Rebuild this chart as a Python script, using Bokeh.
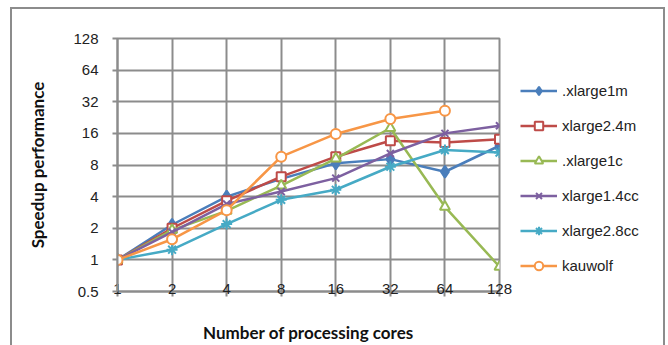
from bokeh.plotting import figure
from bokeh.layouts import row
from bokeh.models import (FixedTicker, BasicTickFormatter, Legend, LegendItem,
                          Range1d, InlineStyleSheet)
from bokeh.embed import file_html
from bokeh.resources import INLINE

cores = [1, 2, 4, 8, 16, 32, 64, 128]
y_ticks = [0.5, 1, 2, 4, 8, 16, 32, 64, 128]
nan = float("nan")

xlarge1m = [1, 2.16, 4.0, 5.9, 8.3, 9.1, 6.9, 12.2]
xlarge24m = [1, 2.0, 3.65, 6.2, 9.6, 13.6, 13.1, 14.1]
xlarge1c = [1, 1.92, 2.93, 5.1, 9.2, 18.0, 3.2, 0.86]
xlarge14cc = [1, 1.84, 3.4, 4.47, 6.0, 10.3, 16.0, 18.9]
xlarge28cc = [1, 1.25, 2.19, 3.73, 4.65, 7.7, 11.1, 10.5]
kauwolf = [1, 1.57, 2.97, 9.6, 15.8, 21.9, 26.3, nan]

series = [
    (".xlarge1m", xlarge1m, "#4a7ebb", "diamond", "#4a7ebb", 12),
    ("xlarge2.4m", xlarge24m, "#be4b48", "square", "white", 9),
    (".xlarge1c", xlarge1c, "#98b954", "triangle", "white", 10),
    ("xlarge1.4cc", xlarge14cc, "#7d60a0", "x", None, 10),
    ("xlarge2.8cc", xlarge28cc, "#46aac5", "asterisk", None, 11),
    ("kauwolf", kauwolf, "#f79646", "circle", "white", 10),
]

grid_col = "#8c8c8c"
font = "Liberation Sans"

border_css = InlineStyleSheet(css="""
:host { overflow: hidden; position: relative; }
:host::after {
  content: ''; position: absolute; left: 10px; top: 7px;
  width: 651px; height: 400px; border: 2px solid #8c8c8c;
  pointer-events: none; z-index: 10;
}
""")

# ---- main chart ----
p = figure(width=520, height=345, x_axis_type="log", y_axis_type="log",
           x_range=Range1d(1, 128), y_range=Range1d(0.5, 128),
           output_backend="svg", toolbar_location=None,
           min_border_left=117, min_border_right=21,
           min_border_top=38, min_border_bottom=54)

p.background_fill_color = "white"
p.border_fill_color = "white"
p.outline_line_color = grid_col
p.outline_line_width = 2

for ax, ticks in ((p.xaxis, cores), (p.yaxis, y_ticks)):
    ax.ticker = FixedTicker(ticks=ticks)
    ax.formatter = BasicTickFormatter()
    ax.minor_tick_line_color = None
    ax.major_tick_line_color = grid_col
    ax.major_tick_line_width = 2
    ax.major_tick_out = 5
    ax.major_tick_in = 0
    ax.axis_line_color = grid_col
    ax.axis_line_width = 2
    ax.major_label_text_font = font
    ax.major_label_text_font_size = "15px"
    ax.major_label_text_color = "#222222"
    ax.axis_label_text_font = "Lato"
    ax.axis_label_text_font_style = "bold"
    ax.axis_label_text_font_size = "17px"
    ax.axis_label_text_color = "#111111"

p.xgrid.ticker = FixedTicker(ticks=cores)
p.ygrid.ticker = FixedTicker(ticks=y_ticks)
for g in (p.xgrid, p.ygrid):
    g.grid_line_color = grid_col
    g.grid_line_width = 2
    g.grid_line_alpha = 1

p.xaxis.axis_label = "Number of processing cores"
p.yaxis.axis_label = "Speedup performance"
p.xaxis.major_label_standoff = -13
p.xaxis.axis_label_standoff = 25
p.yaxis.major_label_standoff = 14
p.yaxis.axis_label_standoff = 22

for name, vals, col, mk, fill, sz in series:
    p.line(cores, vals, line_color=col, line_width=2.5)
    p.scatter(cores, vals, marker=mk, size=sz, line_color=col,
              line_width=2, fill_color=fill if fill else col)

# ---- legend panel (its renderers lie outside its visible range) ----
q = figure(width=148, height=345, output_backend="svg", toolbar_location=None,
           x_axis_location=None, y_axis_location=None,
           x_range=Range1d(-3, -2),
           min_border_left=0, min_border_right=0,
           min_border_top=0, min_border_bottom=0)
q.grid.visible = False
q.outline_line_color = None
q.background_fill_color = "white"
q.border_fill_color = "white"

items = []
for name, vals, col, mk, fill, sz in series:
    lr = q.line(cores, vals, line_color=col, line_width=2.5)
    sr = q.scatter(cores, vals, marker=mk, size=sz, line_color=col,
                   line_width=2, fill_color=fill if fill else col)
    items.append(LegendItem(label=name, renderers=[lr, sr]))

legend = Legend(items=items, location=(0, 15))
legend.glyph_width = 37
legend.glyph_height = 21
legend.label_height = 21
legend.spacing = 14
legend.padding = 0
legend.margin = 0
legend.label_standoff = 5
legend.border_line_color = None
legend.background_fill_alpha = 0
legend.label_text_font = font
legend.label_text_font_size = "15px"
legend.label_text_color = "#222222"
q.add_layout(legend, "center")

layout = row(p, q, width=668, height=345, stylesheets=[border_css])

open("out.html", "w").write(file_html(layout, INLINE))
